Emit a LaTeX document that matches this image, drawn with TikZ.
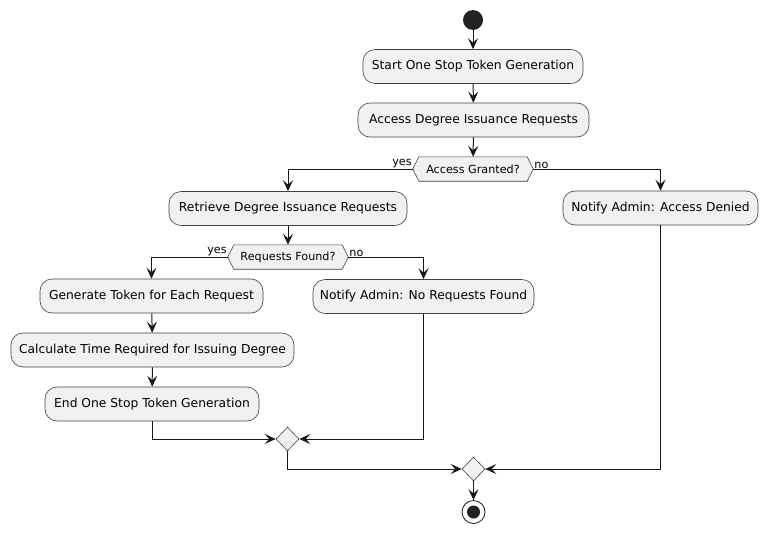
\documentclass[tikz,border=0pt]{standalone}
\usepackage{fontspec}
\setmainfont{DejaVu Sans}
\usetikzlibrary{arrows.meta,shapes.geometric}
\definecolor{lineC}{HTML}{181818}
\definecolor{boxC}{HTML}{F1F1F1}
\definecolor{dotC}{HTML}{222222}
\tikzset{
  act/.style={draw=lineC!60!gray, line width=0.6pt, fill=boxC, rounded corners=12pt,
    minimum height=34pt, inner sep=0pt, font=\fontsize{12.3}{14}\selectfont, text=black},
  hexnode/.style={minimum width=120pt, minimum height=24pt, inner sep=0pt,
    font=\fontsize{11.2}{13}\selectfont},
  hexdraw/.style={draw=lineC!60!gray, line width=0.6pt, fill=boxC},
  merge/.style={diamond, draw=lineC!60!gray, line width=0.6pt, fill=boxC,
    minimum width=23pt, minimum height=24pt, inner sep=0pt},
  flow/.style={draw=lineC, line width=1pt, -{Stealth[length=11pt,width=10pt,inset=4.5pt]}},
  lbl/.style={font=\fontsize{11.2}{13}\selectfont, inner sep=1pt},
}
\begin{document}
\begin{tikzpicture}[x=1pt,y=-1pt]
\useasboundingbox (0,0) rectangle (767,533);
% start
\node[circle, fill=dotC, minimum size=20pt, inner sep=0pt] (start) at (473,20) {};
\node[act, minimum width=220pt] (b1) at (473,66.5) {Start One Stop Token Generation};
\node[act, minimum width=231pt] (b2) at (473.5,120) {Access Degree Issuance Requests};
\node[hexnode] (d1) at (473,169) {};
\node[act, minimum width=238pt] (b3) at (288,208.5) {Retrieve Degree Issuance Requests};
\node[act, minimum width=195pt] (b4) at (660.5,208) {Notify Admin: Access Denied};
\node[hexnode] (d2) at (288,257) {};
\node[act, minimum width=223pt] (b5) at (151.5,296) {Generate Token for Each Request};
\node[act, minimum width=221pt] (b6) at (423.5,296.5) {Notify Admin: No Requests Found};
\node[act, minimum width=283pt] (b7) at (152.5,350) {Calculate Time Required for Issuing Degree};
\node[act, minimum width=214pt] (b8) at (152,404) {End One Stop Token Generation};
\node[merge] (m1) at (287.5,439) {};
\node[merge] (m2) at (473.5,469) {};
\node[circle, draw=lineC, line width=0.8pt, fill=white, minimum size=23pt, inner sep=0pt] (end) at (473.5,512) {};
\fill[dotC] (end.center) circle (6.5pt);

% hexagons
\foreach \h in {d1,d2}{
  \draw[hexdraw] (\h.west) -- ([xshift=6pt]\h.north west) -- ([xshift=-6pt]\h.north east)
    -- (\h.east) -- ([xshift=-6pt]\h.south east) -- ([xshift=6pt]\h.south west) -- cycle;
}
\node[hexnode] (t1) at (d1) {Access Granted?};
\node[hexnode] (t2) at (d2) {Requests Found?};

% connectors
\draw[flow] (start) -- (b1);
\draw[flow] (b1) -- (b2);
\draw[flow] (b2) -- (d1);
\draw[flow] (d1.west) -| (b3.north);
\draw[flow] (d1.east) -| (b4.north);
\draw[flow] (b3) -- (d2);
\draw[flow] (d2.west) -| (b5.north);
\draw[flow] (d2.east) -| (b6.north);
\draw[flow] (b5) -- (b7);
\draw[flow] (b7) -- (b8);
\draw[flow] (b8.south) |- (m1.west);
\draw[flow] (b6.south) |- (m1.east);
\draw[flow] (m1.south) |- (m2.west);
\draw[flow] (b4.south) |- (m2.east);
\draw[flow] (m2) -- (end);

% labels
\node[lbl, anchor=south east] (y1) at ([yshift=-0.5pt]d1.west) {yes};
\node[lbl, anchor=south west] (n1) at ([yshift=-0.5pt]d1.east) {no};
\node[lbl, anchor=south east] (y2) at ([yshift=-0.5pt]d2.west) {yes};
\node[lbl, anchor=south west] (n2) at ([yshift=-0.5pt]d2.east) {no};
\end{tikzpicture}
\end{document}
